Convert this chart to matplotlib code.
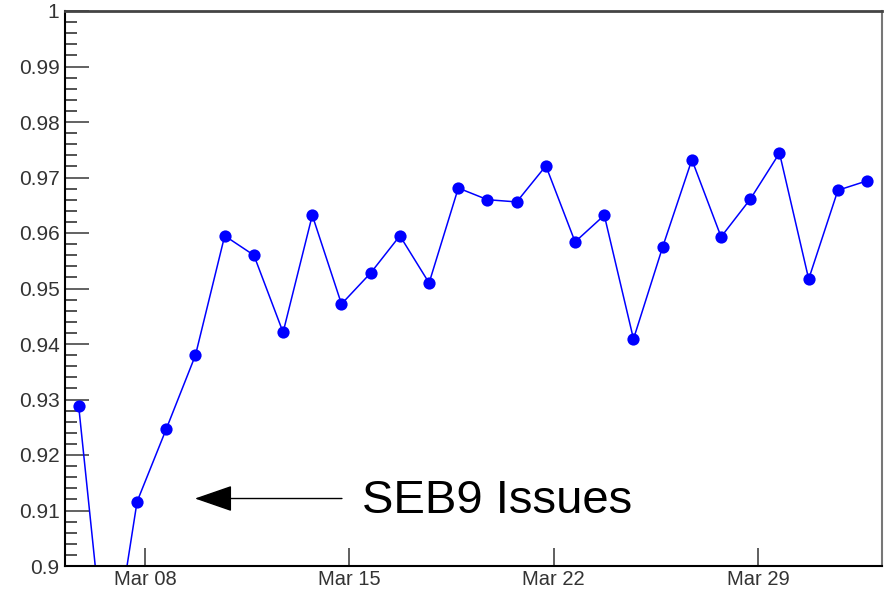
import numpy as np
import pandas as pd
import matplotlib
matplotlib.use('Agg')
import matplotlib.pyplot as plt
import matplotlib.dates as mdates
from matplotlib.ticker import MultipleLocator, FormatStrFormatter, FuncFormatter

plt.rcParams['font.family'] = ['Liberation Sans', 'DejaVu Sans']

# daily efficiency values (one point per day, taken in the evening)
start_day = '2021-03-05 17:30'
n_days = 28
efficiency = [0.9288, 0.878, 0.9116, 0.9247, 0.9380, 0.9595, 0.9560, 0.9421,
              0.9632, 0.9472, 0.9528, 0.9595, 0.9510, 0.9681, 0.9660, 0.9656,
              0.9721, 0.9584, 0.9632, 0.9409, 0.9575, 0.9732, 0.9593, 0.9661,
              0.9744, 0.9517, 0.9677, 0.9694]
days = pd.date_range(start_day, periods=n_days, freq='D')

annot_text = 'SEB9 Issues'

fig = plt.figure(figsize=(8.89, 5.92), dpi=100)
ax = fig.add_axes([65/889, 26/592, 817/889, 555/592])

ax.plot(days, efficiency, color='#0000ff', lw=1.1, marker='o', ms=8.8,
        markeredgewidth=0, clip_on=True)

ax.set_ylim(0.9, 1.0)
ax.set_xlim(pd.Timestamp('2021-03-05 06:15'), pd.Timestamp('2021-04-02 05:45'))

# y axis, ROOT-like ticks
ax.yaxis.set_major_locator(MultipleLocator(0.01))
ax.yaxis.set_minor_locator(MultipleLocator(0.002))
ax.yaxis.set_major_formatter(FuncFormatter(lambda v, p: '%g' % round(v, 3)))
ax.tick_params(axis='y', which='major', direction='in', length=17, width=1.3,
               color='#555555', labelsize=15, labelcolor='#333333', pad=4)
ax.tick_params(axis='y', which='minor', direction='in', length=8.5, width=1.1,
               color='#222222')

# x axis, weekly date ticks
ax.xaxis.set_major_locator(mdates.DayLocator(bymonthday=[8, 15, 22, 29]))
ax.xaxis.set_major_formatter(mdates.DateFormatter('%b %d'))
ax.xaxis.set_minor_locator(plt.NullLocator())
ax.tick_params(axis='x', which='major', direction='in', length=13, width=1.2,
               color='#444444', labelsize=14.5, labelcolor='#333333', pad=3)

for side in ['left', 'bottom']:
    ax.spines[side].set_color('black')
    ax.spines[side].set_linewidth(1.5)
ax.spines['top'].set_color('#444444')
ax.spines['top'].set_linewidth(2)
ax.spines['right'].set_color('#777777')
ax.spines['right'].set_linewidth(1.5)

# annotation arrow and text
ax.annotate('', xy=(0.159, 0.1216), xytext=(0.339, 0.1216),
            xycoords='axes fraction', textcoords='axes fraction',
            arrowprops=dict(arrowstyle='-|>,head_length=24,head_width=8.3',
                            mutation_scale=1, lw=1, color='black',
                            shrinkA=0, shrinkB=0))
ax.text(0.3635, 0.117, annot_text, transform=ax.transAxes, fontsize=34,
        va='center', ha='left', color='black')

fig.savefig('out.png', dpi=100)
